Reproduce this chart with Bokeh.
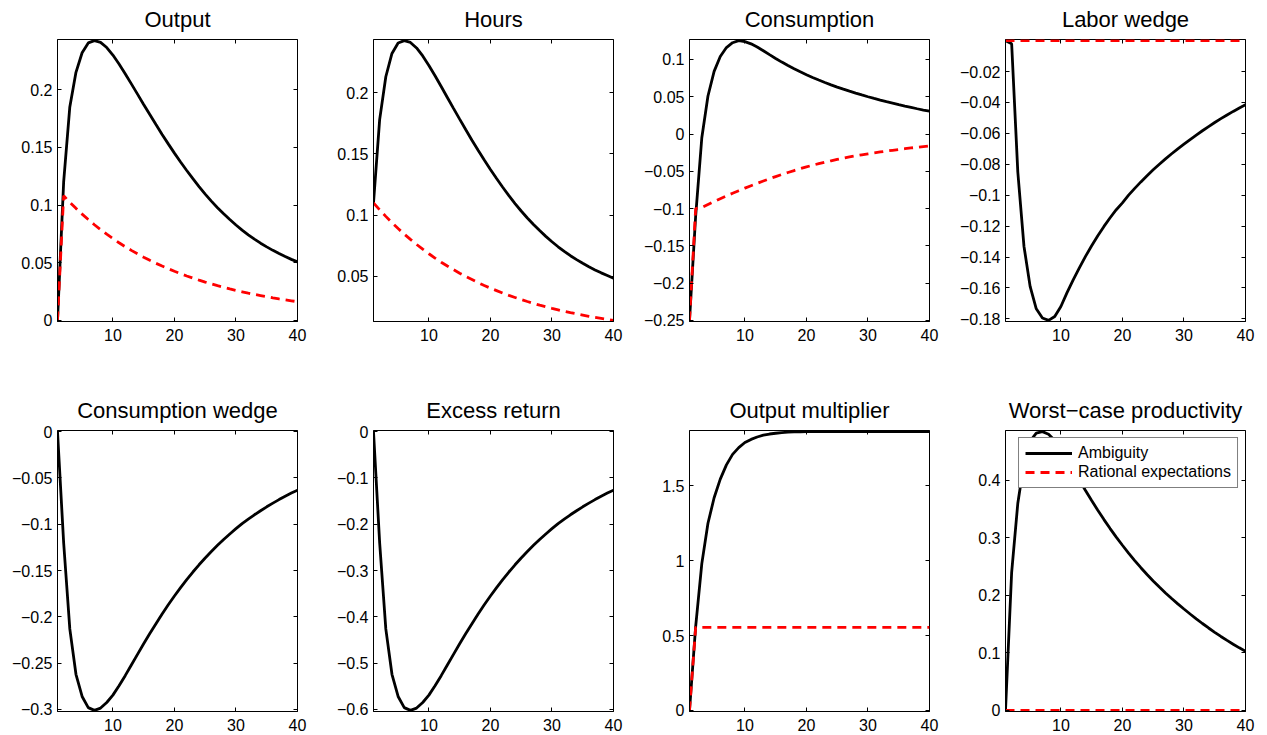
from bokeh.plotting import figure
from bokeh.models import Range1d, LinearAxis, FixedTicker, Legend, LegendItem, CustomLabelingPolicy
from bokeh.layouts import column, row
from bokeh.embed import file_html
from bokeh.resources import INLINE

FONT = "Liberation Sans"

# ---------------- data ----------------
periods = list(range(1, 41))

titles = ["Output", "Hours", "Consumption", "Labor wedge",
          "Consumption wedge", "Excess return", "Output multiplier",
          "Worst\u2212case productivity"]

series_names = ["Ambiguity", "Rational expectations"]

output_amb = [0, 0.120, 0.185, 0.215, 0.232, 0.2405, 0.2425, 0.2410, 0.2365, 0.2300,
              0.2222, 0.2138, 0.2050, 0.1961, 0.1872, 0.1784, 0.1697, 0.1612, 0.1530, 0.1450,
              0.1373, 0.1299, 0.1228, 0.1160, 0.1095, 0.1034, 0.0977, 0.0924, 0.0874, 0.0827,
              0.0783, 0.0742, 0.0704, 0.0669, 0.0637, 0.0607, 0.0579, 0.0553, 0.0529, 0.0507]
output_re = [0, 0.108, 0.1024, 0.0971, 0.0921, 0.0874, 0.0829, 0.0787, 0.0747, 0.0709,
             0.0673, 0.0639, 0.0607, 0.0577, 0.0548, 0.0521, 0.0495, 0.0471, 0.0448, 0.0426,
             0.0405, 0.0385, 0.0367, 0.0349, 0.0332, 0.0316, 0.0301, 0.0287, 0.0273, 0.0260,
             0.0248, 0.0236, 0.0225, 0.0215, 0.0205, 0.0195, 0.0186, 0.0178, 0.0170, 0.0162]

hours_amb = [0.110, 0.178, 0.213, 0.232, 0.2405, 0.2425, 0.2410, 0.2365, 0.2300, 0.2222,
             0.2138, 0.2050, 0.1961, 0.1872, 0.1784, 0.1697, 0.1612, 0.1530, 0.1450, 0.1373,
             0.1299, 0.1228, 0.1160, 0.1095, 0.1034, 0.0977, 0.0924, 0.0874, 0.0827, 0.0783,
             0.0742, 0.0704, 0.0669, 0.0637, 0.0607, 0.0579, 0.0553, 0.0529, 0.0507, 0.0485]
hours_re = [0.1100, 0.1044, 0.0990, 0.0939, 0.0891, 0.0845, 0.0802, 0.0761, 0.0722, 0.0685,
            0.0650, 0.0616, 0.0585, 0.0555, 0.0526, 0.0499, 0.0474, 0.0449, 0.0426, 0.0404,
            0.0384, 0.0364, 0.0345, 0.0328, 0.0311, 0.0295, 0.0280, 0.0265, 0.0252, 0.0239,
            0.0227, 0.0215, 0.0204, 0.0194, 0.0184, 0.0174, 0.0165, 0.0157, 0.0149, 0.0141]

cons_amb = [-0.25, -0.11, -0.005, 0.051, 0.084, 0.104, 0.116, 0.1225, 0.1253, 0.1240,
            0.1210, 0.1167, 0.1117, 0.1065, 0.1014, 0.0965, 0.0919, 0.0876, 0.0835, 0.0796,
            0.0759, 0.0724, 0.0691, 0.0660, 0.0630, 0.0602, 0.0575, 0.0549, 0.0524, 0.0500,
            0.0477, 0.0455, 0.0434, 0.0414, 0.0394, 0.0375, 0.0357, 0.0339, 0.0322, 0.0306]
cons_re = [-0.25, -0.100, -0.0985, -0.0945, -0.0906, -0.0868, -0.0831, -0.0795, -0.0760, -0.0726,
           -0.0693, -0.0661, -0.0630, -0.0600, -0.0571, -0.0543, -0.0516, -0.0490, -0.0465, -0.0441,
           -0.0419, -0.0398, -0.0378, -0.0359, -0.0341, -0.0324, -0.0308, -0.0293, -0.0279, -0.0266,
           -0.0253, -0.0241, -0.0229, -0.0218, -0.0207, -0.0197, -0.0187, -0.0178, -0.0169, -0.0161]

labor_amb = [0, -0.002, -0.085, -0.133, -0.159, -0.1735, -0.1795, -0.181, -0.1785, -0.1720,
             -0.1630, -0.1548, -0.1470, -0.1396, -0.1327, -0.1262, -0.1202, -0.1146, -0.1094, -0.1050,
             -0.1000, -0.0956, -0.0914, -0.0874, -0.0836, -0.0800, -0.0765, -0.0732, -0.0700, -0.0670,
             -0.0640, -0.0611, -0.0583, -0.0556, -0.0530, -0.0505, -0.0481, -0.0458, -0.0436, -0.0415]
labor_re = [0.0] * 40

cwedge_amb = [0, -0.120, -0.213, -0.262, -0.286, -0.298, -0.301, -0.2985, -0.2925, -0.2845,
              -0.2745, -0.2635, -0.2520, -0.2405, -0.2290, -0.2180, -0.2075, -0.1970, -0.1870, -0.1775,
              -0.1685, -0.1598, -0.1516, -0.1438, -0.1364, -0.1294, -0.1228, -0.1165, -0.1105, -0.1048,
              -0.0993, -0.0944, -0.0898, -0.0854, -0.0812, -0.0772, -0.0734, -0.0698, -0.0664, -0.0632]

excess_amb = [0, -0.240, -0.426, -0.524, -0.572, -0.596, -0.602, -0.597, -0.585, -0.569,
              -0.549, -0.527, -0.504, -0.481, -0.458, -0.436, -0.415, -0.394, -0.374, -0.355,
              -0.337, -0.3196, -0.3032, -0.2876, -0.2728, -0.2588, -0.2456, -0.2330, -0.2210, -0.2096,
              -0.1986, -0.1888, -0.1796, -0.1708, -0.1624, -0.1544, -0.1468, -0.1396, -0.1328, -0.1264]

mult_amb = [0, 0.56, 0.98, 1.25, 1.42, 1.545, 1.64, 1.71, 1.755, 1.789,
            1.810, 1.826, 1.838, 1.846, 1.851, 1.855, 1.858, 1.860, 1.861, 1.862,
            1.862, 1.862, 1.862, 1.862, 1.862, 1.862, 1.862, 1.862, 1.862, 1.862,
            1.862, 1.862, 1.862, 1.862, 1.862, 1.862, 1.862, 1.862, 1.862, 1.862]
mult_re = [0] + [0.555] * 39

worst_amb = [0, 0.24, 0.36, 0.43, 0.468, 0.482, 0.4845, 0.480, 0.469, 0.454,
             0.437, 0.419, 0.4005, 0.3823, 0.3647, 0.3478, 0.3316, 0.3160, 0.3012, 0.2870,
             0.2734, 0.2604, 0.2480, 0.2362, 0.2250, 0.2143, 0.2041, 0.1944, 0.1851, 0.1762,
             0.1675, 0.1591, 0.1510, 0.1432, 0.1357, 0.1285, 0.1216, 0.1150, 0.1087, 0.1027]
worst_re = [0.0] * 40

x_ticks = [10, 20, 30, 40]
y_ticks = [
    [0, 0.05, 0.1, 0.15, 0.2],
    [0.05, 0.1, 0.15, 0.2],
    [-0.25, -0.2, -0.15, -0.1, -0.05, 0, 0.05, 0.1],
    [-0.18, -0.16, -0.14, -0.12, -0.1, -0.08, -0.06, -0.04, -0.02],
    [-0.3, -0.25, -0.2, -0.15, -0.1, -0.05, 0],
    [-0.6, -0.5, -0.4, -0.3, -0.2, -0.1, 0],
    [0, 0.5, 1, 1.5],
    [0, 0.1, 0.2, 0.3, 0.4],
]

amb_series = [output_amb, hours_amb, cons_amb, labor_amb, cwedge_amb, excess_amb, mult_amb, worst_amb]
re_series = [output_re, hours_re, cons_re, labor_re, None, None, mult_re, worst_re]


def fmt(v):
    s = f"{abs(v):g}"
    return ("\u2212" + s) if v < 0 else s


def style_axis(ax, ticks, labels=True):
    ax.ticker = FixedTicker(ticks=ticks)
    ax.major_tick_in = 4
    ax.major_tick_out = 0
    ax.minor_tick_line_color = None
    ax.major_tick_line_color = "black"
    ax.axis_line_color = "black"
    if labels:
        ax.major_label_text_font = FONT
        ax.major_label_text_font_size = "16px"
        ax.major_label_text_color = "black"
        ax.major_label_overrides = {t: fmt(t) for t in ticks}
    else:
        # tick marks only (mirrored box ticks), no labels drawn
        ax.major_label_policy = CustomLabelingPolicy(code="return []")
        ax.major_label_text_font_size = "1px"
        ax.major_label_standoff = 0
        ax.axis_line_color = None


def make_panel(i):
    amb = amb_series[i]
    re = re_series[i]
    allv = amb + (re if re else [])
    lo, hi = min(allv), max(allv)
    pad = (hi - lo) * 0.004
    top_row = i < 4
    h = 375 if top_row else 360
    p = figure(width=316, height=h, x_range=Range1d(1, 40),
               y_range=Range1d(lo - pad, hi + pad),
               output_backend="svg", toolbar_location=None,
               min_border_left=57, min_border_right=19,
               min_border_top=39 if top_row else 55,
               min_border_bottom=54 if top_row else 24,
               title=titles[i])
    p.grid.visible = False
    p.outline_line_color = "black"
    p.outline_line_alpha = 1
    p.outline_line_width = 1
    p.title.align = "center"
    p.title.text_font = FONT
    p.title.text_font_style = "normal"
    p.title.text_font_size = "22px"
    p.title.text_color = "black"
    p.title.standoff = 6

    style_axis(p.xaxis[0], x_ticks)
    p.xaxis[0].major_label_standoff = 7
    style_axis(p.yaxis[0], y_ticks[i])
    p.yaxis[0].major_label_standoff = 5

    top_ax = LinearAxis()
    style_axis(top_ax, x_ticks, labels=False)
    top_ax.major_label_standoff = 1
    p.add_layout(top_ax, "above")
    right_ax = LinearAxis()
    style_axis(right_ax, y_ticks[i], labels=False)
    p.add_layout(right_ax, "right")

    r1 = p.line(periods, amb, line_color="black", line_width=2.8)
    r2 = None
    if re is not None:
        r2 = p.line(periods, re, line_color="#ff0000", line_width=2.8, line_dash="9 6")
    if i == 7:
        legend = Legend(items=[LegendItem(label=series_names[0], renderers=[r1]),
                               LegendItem(label=series_names[1], renderers=[r2])],
                        location="top_right")
        legend.border_line_color = "black"
        legend.border_line_width = 1
        legend.background_fill_alpha = 1
        legend.label_text_font = FONT
        legend.label_text_font_size = "16px"
        legend.label_text_color = "black"
        legend.glyph_width = 47
        legend.glyph_height = 16
        legend.label_height = 16
        legend.label_standoff = 6
        legend.padding = 6
        legend.spacing = 1
        legend.margin = 7
        p.add_layout(legend)
    return p


panels = [make_panel(i) for i in range(8)]
layout = column(row(*panels[:4]), row(*panels[4:]))

open("out.html", "w").write(file_html(layout, INLINE))
